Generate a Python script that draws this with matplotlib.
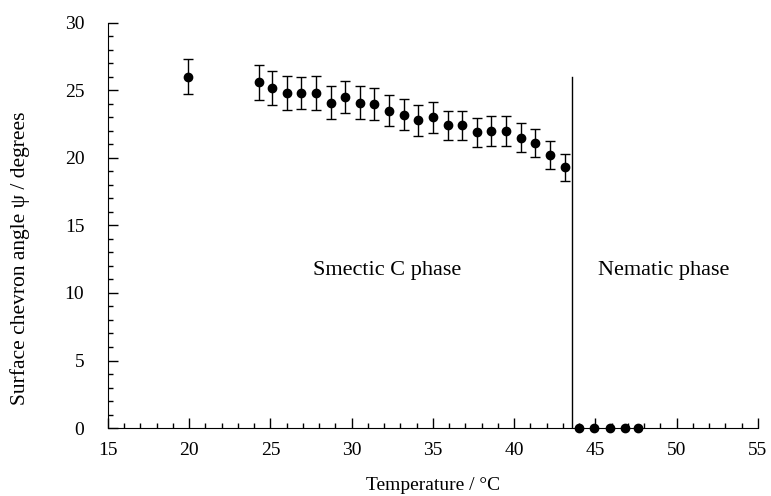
import matplotlib
matplotlib.use("Agg")
import matplotlib.pyplot as plt
from matplotlib.ticker import MultipleLocator

plt.rcParams["font.family"] = ["Liberation Serif", "DejaVu Serif"]

# smectic C points (temperature / degC, angle / deg, error)
temp_sm = [19.9, 24.3, 25.1, 26.0, 26.9, 27.8, 28.7, 29.6, 30.5, 31.4, 32.3,
           33.2, 34.1, 35.0, 35.9, 36.8, 37.7, 38.6, 39.5, 40.4, 41.3, 42.2, 43.1]
angle_sm = [26.0, 25.6, 25.2, 24.8, 24.8, 24.8, 24.1, 24.5, 24.1, 24.0, 23.5,
            23.2, 22.8, 23.0, 22.4, 22.4, 21.9, 22.0, 22.0, 21.5, 21.1, 20.2, 19.3]
err_sm = [1.3, 1.3, 1.25, 1.25, 1.2, 1.25, 1.2, 1.2, 1.2, 1.2, 1.16,
          1.15, 1.15, 1.14, 1.1, 1.1, 1.09, 1.09, 1.09, 1.07, 1.04, 1.02, 1.0]

# nematic points
temp_nem = [44.0, 44.9, 45.9, 46.8, 47.6]
angle_nem = [0, 0, 0, 0, 0]

transition_t = 43.55
transition_top = 26.0

fig = plt.figure(figsize=(7.71, 4.96), dpi=100)
ax = fig.add_axes([0.140, 0.137, 0.843, 0.817])

ax.errorbar(temp_sm, angle_sm, yerr=err_sm, fmt="o", color="black", ms=6,
            elinewidth=1.0, capsize=3.5, capthick=1.0)
ax.plot(temp_nem, angle_nem, "o", color="black", ms=6, clip_on=False, zorder=5)
ax.plot([transition_t, transition_t], [0, transition_top], color="black", lw=1.0)

ax.text(32.2, 11.7, "Smectic C phase", ha="center", va="center", fontsize=16)
ax.text(49.2, 11.7, "Nematic phase", ha="center", va="center", fontsize=16)

ax.set_xlim(15, 55)
ax.set_ylim(0, 30)
ax.xaxis.set_major_locator(MultipleLocator(5))
ax.xaxis.set_minor_locator(MultipleLocator(1))
ax.yaxis.set_major_locator(MultipleLocator(5))
ax.yaxis.set_minor_locator(MultipleLocator(1))
ax.tick_params(which="both", direction="in", labelsize=14, width=1.0)
ax.tick_params(which="major", length=7)
ax.tick_params(which="minor", length=3.5)
ax.tick_params(axis="x", pad=10)
ax.tick_params(axis="y", pad=17)
for s in ("top", "right"):
    ax.spines[s].set_visible(False)

ax.set_xlabel("Temperature / °C", fontsize=14, labelpad=13)
ax.set_ylabel("Surface chevron angle ψ / degrees", fontsize=15.5)
ax.yaxis.set_label_coords(-0.12, 0.42)

fig.savefig("out.png", dpi=100)
